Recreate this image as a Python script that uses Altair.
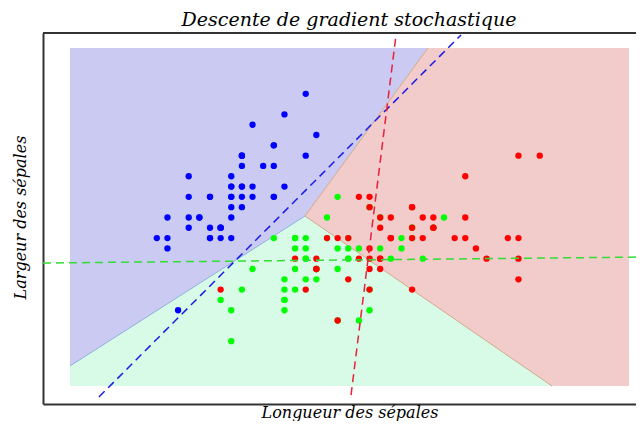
import altair as alt
import pandas as pd
import numpy as np

setosa_x = [5.1, 4.9, 4.7, 4.6, 5.0, 5.4, 4.6, 5.0, 4.4, 4.9, 5.4, 4.8, 4.8, 4.3, 5.8, 5.7, 5.4, 5.1, 5.7, 5.1,
            5.4, 5.1, 4.6, 5.1, 4.8, 5.0, 5.0, 5.2, 5.2, 4.7, 4.8, 5.4, 5.2, 5.5, 4.9, 5.0, 5.5, 4.9, 4.4, 5.1,
            5.0, 4.5, 4.4, 5.0, 5.1, 4.8, 5.1, 4.6, 5.3, 5.0]
setosa_y = [3.5, 3.0, 3.2, 3.1, 3.6, 3.9, 3.4, 3.4, 2.9, 3.1, 3.7, 3.4, 3.0, 3.0, 4.0, 4.4, 3.9, 3.5, 3.8, 3.8,
            3.4, 3.7, 3.6, 3.3, 3.4, 3.0, 3.4, 3.5, 3.4, 3.2, 3.1, 3.4, 4.1, 4.2, 3.1, 3.2, 3.5, 3.1, 3.0, 3.4,
            3.5, 2.3, 3.2, 3.5, 3.8, 3.0, 3.8, 3.2, 3.7, 3.3]
versicolor_x = [7.0, 6.4, 6.9, 5.5, 6.5, 5.7, 6.3, 4.9, 6.6, 5.2, 5.0, 5.9, 6.0, 6.1, 5.6, 6.7, 5.6, 5.8, 6.2, 5.6,
                5.9, 6.1, 6.3, 6.1, 6.4, 6.6, 6.8, 6.7, 6.0, 5.7, 5.5, 5.5, 5.8, 6.0, 5.4, 6.0, 6.7, 6.3, 5.6, 5.5,
                5.5, 6.1, 5.8, 5.0, 5.6, 5.7, 5.7, 6.2, 5.1, 5.7]
versicolor_y = [3.2, 3.2, 3.1, 2.3, 2.8, 2.8, 3.3, 2.4, 2.9, 2.7, 2.0, 3.0, 2.2, 2.9, 2.9, 3.1, 3.0, 2.7, 2.2, 2.5,
                3.2, 2.8, 2.5, 2.8, 2.9, 3.0, 2.8, 3.0, 2.9, 2.6, 2.4, 2.4, 2.7, 2.7, 3.0, 3.4, 3.1, 2.3, 3.0, 2.5,
                2.6, 3.0, 2.6, 2.3, 2.7, 3.0, 2.9, 2.9, 2.5, 2.8]
virginica_x = [6.3, 5.8, 7.1, 6.3, 6.5, 7.6, 4.9, 7.3, 6.7, 7.2, 6.5, 6.4, 6.8, 5.7, 5.8, 6.4, 6.5, 7.7, 7.7, 6.0,
               6.9, 5.6, 7.7, 6.3, 6.7, 7.2, 6.2, 6.1, 6.4, 7.2, 7.4, 7.9, 6.4, 6.3, 6.1, 7.7, 6.3, 6.4, 6.0, 6.9,
               6.7, 6.9, 5.8, 6.8, 6.7, 6.7, 6.3, 6.5, 6.2, 5.9]
virginica_y = [3.3, 2.7, 3.0, 2.9, 3.0, 3.0, 2.5, 2.9, 2.5, 3.6, 3.2, 2.7, 3.0, 2.5, 2.8, 3.2, 3.0, 3.8, 2.6, 2.2,
               3.2, 2.8, 2.8, 2.7, 3.3, 3.2, 2.8, 3.0, 2.8, 3.0, 2.8, 3.8, 2.8, 2.8, 2.6, 3.0, 3.4, 3.1, 3.0, 3.1,
               3.1, 3.1, 2.7, 3.2, 3.3, 3.0, 2.5, 3.0, 3.4, 3.0]

classes = ["setosa", "versicolor", "virginica"]
point_colors = ["#0000ff", "#00ff00", "#ff0000"]

# ---- decision regions ----
region_x = [3.484, 8.739]          # extent of the coloured mesh
region_y = [1.5645, 4.844]
junction = (5.693, 3.214)          # where the three regions meet
blue_green_left = (3.484, 1.759)   # blue/green boundary at left edge
blue_red_top = (6.849, 4.844)      # blue/red boundary at top edge
green_red_bottom = (8.015, 1.5645) # green/red boundary at bottom edge

# ---- one-vs-all hyperplanes (dashed) ----
line_cls = ["setosa", "setosa", "versicolor", "versicolor", "virginica", "virginica"]
line_x = [3.756, 7.160, 3.23, 8.88, 6.126, 6.549]
line_y = [1.458, 4.971, 2.758, 2.816, 1.477, 4.971]
line_colors = ["#1a1ae6", "#33dd33", "#e8203c"]

title_text = ["Descente de gradient stochastique"]

# visible part of the axes (the original axes run on past the right edge)
X_DOMAIN = [3.23, 8.805]
Y_DOMAIN = [1.39, 4.99]
PLOT_W = 593
PLOT_H = 371

FONT = "DejaVu Serif"
xs = alt.Scale(domain=X_DOMAIN, nice=False, zero=False)
ys = alt.Scale(domain=Y_DOMAIN, nice=False, zero=False)
x_axis = alt.Axis(title="Longueur des sépales", titleX=306.5, titleY=13, titleAlign="center",
                  titleBaseline="alphabetic")
y_axis = alt.Axis(title="Largeur des sépales", titleX=-18, titleY=184, titleAlign="center",
                  titleBaseline="alphabetic")


def X(f="x"):
    return alt.X(f"{f}:Q", scale=xs, axis=x_axis)


def Y(f="y"):
    return alt.Y(f"{f}:Q", scale=ys, axis=y_axis)


# green (mint) background
green_df = pd.DataFrame({"x": region_x, "y": [region_y[0]] * 2, "y2": [region_y[1]] * 2})
green = alt.Chart(green_df).mark_area(color="#d8fbe8", opacity=1).encode(x=X(), y=Y(), y2="y2:Q")

# blue region: above boundary blue_green_left -> junction -> blue_red_top
blue_df = pd.DataFrame({
    "x": [blue_green_left[0], junction[0], blue_red_top[0]],
    "y": [blue_green_left[1], junction[1], blue_red_top[1]],
    "y2": [region_y[1]] * 3,
})
blue = alt.Chart(blue_df).mark_area(color="#cacaf2", opacity=1).encode(x=X(), y=Y(), y2="y2:Q")

# red region: right of junction between blue/red and green/red boundaries
rx = [junction[0], blue_red_top[0], green_red_bottom[0], region_x[1]]
low = np.interp(rx, [junction[0], green_red_bottom[0], region_x[1]],
                [junction[1], green_red_bottom[1], green_red_bottom[1]])
high = np.interp(rx, [junction[0], blue_red_top[0], region_x[1]],
                 [junction[1], blue_red_top[1], blue_red_top[1]])
red_df = pd.DataFrame({"x": rx, "y": low, "y2": high})
red = alt.Chart(red_df).mark_area(color="#f2cbcb", opacity=1).encode(x=X(), y=Y(), y2="y2:Q")

# thin boundary edges
edge_df = pd.DataFrame({
    "edge": ["bg", "bg", "br", "br", "gr", "gr"],
    "x": [blue_green_left[0], junction[0], junction[0], blue_red_top[0], junction[0], green_red_bottom[0]],
    "y": [blue_green_left[1], junction[1], junction[1], blue_red_top[1], junction[1], green_red_bottom[1]],
})
edges = alt.Chart(edge_df).mark_line(strokeWidth=1).encode(
    x=X(), y=Y(), detail="edge:N",
    color=alt.Color("edge:N", scale=alt.Scale(domain=["bg", "br", "gr"],
                                              range=["#8fb0dc", "#d2aa88", "#d2aa88"]), legend=None),
)

# points, drawn in class order (red last)
pts = pd.DataFrame({
    "x": setosa_x + versicolor_x + virginica_x,
    "y": setosa_y + versicolor_y + virginica_y,
    "cls": ["setosa"] * len(setosa_x) + ["versicolor"] * len(versicolor_x) + ["virginica"] * len(virginica_x),
})
points = alt.Chart(pts).mark_circle(size=40, opacity=1).encode(
    x=X(), y=Y(),
    color=alt.Color("cls:N", scale=alt.Scale(domain=classes, range=point_colors), legend=None),
)

lines_df = pd.DataFrame({"cls": line_cls, "x": line_x, "y": line_y})
lines = alt.Chart(lines_df).mark_line(strokeDash=[8, 5], strokeWidth=1.5, clip=True).encode(
    x=X(), y=Y(), detail="cls:N",
    color=alt.Color("cls:N", scale=alt.Scale(domain=classes, range=line_colors), legend=None),
)

top_border = alt.Chart(pd.DataFrame({"a": [0]})).mark_rule(color="#333333", strokeWidth=2).encode(
    y=alt.value(0)
)

title = alt.Chart(pd.DataFrame({"t": title_text})).mark_text(
    font=FONT, fontStyle="italic", fontSize=19, color="black", align="center", baseline="alphabetic"
).encode(text="t:N", x=alt.value(306), y=alt.value(-7))

chart = (
    alt.layer(green, blue, red, edges, points, lines, top_border, title)
    .resolve_scale(color="independent")
    .properties(
        width=PLOT_W,
        height=PLOT_H,
        autosize=alt.AutoSizeParams(type="none"),
        padding={"left": 35, "top": 25, "right": 0, "bottom": 17},
    )
    .configure_view(stroke=None)
    .configure_axis(
        domain=True, domainColor="#333333", domainWidth=2, ticks=False, labels=False, grid=False,
        titleFont=FONT, titleFontStyle="italic", titleFontWeight="normal", titleFontSize=16,
        titleColor="black", zindex=1,
    )
)

chart.save("out.html", embed_options={"renderer": "svg", "actions": False})
